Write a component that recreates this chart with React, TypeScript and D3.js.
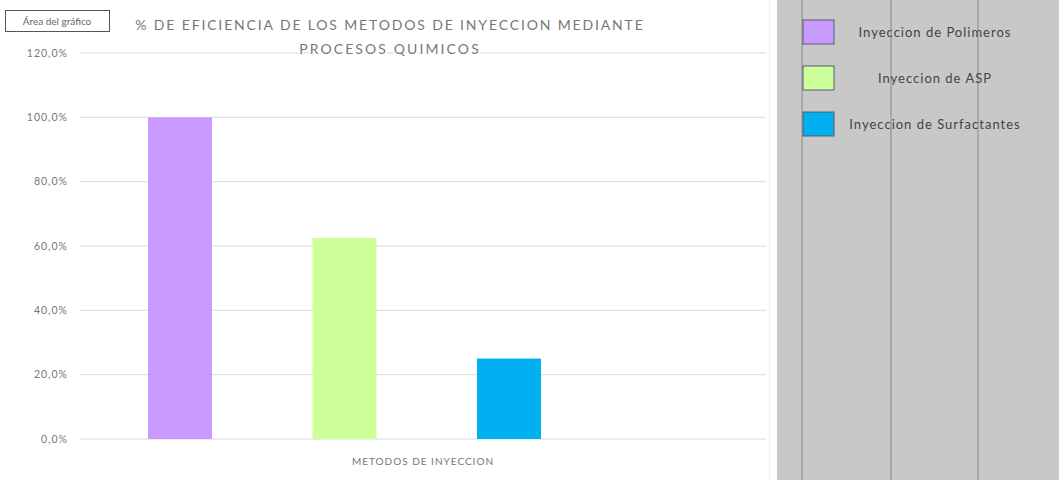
import React from "react";
import * as d3 from "d3";

const series = ["Inyeccion de Polimeros", "Inyeccion de ASP", "Inyeccion de Surfactantes"];
const values = [100, 62.5, 25];
const colors = ["#C899FF", "#CCFF99", "#00B0F0"];
const yTicks = [0, 20, 40, 60, 80, 100, 120];
const category = "METODOS DE INYECCION";
const titleLines = ["% DE EFICIENCIA DE LOS METODOS DE INYECCION MEDIANTE", "PROCESOS QUIMICOS"];
const tooltipText = "Área del gráfico";
const panelLines = [802, 891, 978];

const W = 1059;
const H = 480;
const plotLeft = 80;
const plotRight = 766;
const font = "Lato, 'Open Sans', sans-serif";

export default function App() {
  const y = d3.scaleLinear().domain([0, 120]).range([439, 53]);
  const x = d3.scaleBand<string>().domain(series).range([148, 541]).paddingInner(0.611).paddingOuter(0);
  const legendY = d3.scalePoint<string>().domain(series).range([32, 124]);
  const fmt = (v: number) => d3.format(".1f")(v).replace(".", ",") + "%";

  return (
    <svg width={W} height={H} style={{ position: "absolute", left: 0, top: 0, background: "#fff" }}>
      <rect x={0} y={0} width={W} height={H} fill="#fff" />
      {/* gridlines */}
      {yTicks.map((t) => (
        <line key={t} x1={plotLeft} x2={plotRight} y1={y(t)} y2={y(t)} stroke="#d9d9d9" strokeWidth={1} />
      ))}
      {/* y labels */}
      {yTicks.map((t) => (
        <text key={"l" + t} x={68} y={y(t)} dy="0.35em" textAnchor="end" fontSize={10.5} letterSpacing={1} fill="#777" fontFamily={font}>
          {fmt(t)}
        </text>
      ))}
      {/* bars */}
      {series.map((s, i) => (
        <rect key={s} x={x(s)} y={y(values[i])} width={x.bandwidth()} height={y(0) - y(values[i])} fill={colors[i]} />
      ))}
      {/* x category label */}
      <text x={(plotLeft + plotRight) / 2} y={461} dy="0.35em" textAnchor="middle" fontSize={10} letterSpacing={1} fill="#777" fontFamily={font}>
        {category}
      </text>
      {/* title */}
      {titleLines.map((t, i) => (
        <text
          key={t}
          x={390}
          y={25 + i * 24}
          dy="0.35em"
          textAnchor="middle"
          fontSize={14}
          letterSpacing={i === 0 ? 1.85 : 2.1}
          fill="#777"
          fontFamily={font}
          stroke="#fff"
          strokeWidth={4}
          paintOrder="stroke"
        >
          {t}
        </text>
      ))}
      {/* tooltip box */}
      <rect x={5.5} y={10.5} width={104} height={21} fill="#fff" stroke="#555" strokeWidth={1} />
      <text x={57} y={21} dy="0.35em" textAnchor="middle" fontSize={10} fill="#666" fontFamily={font}>
        {tooltipText}
      </text>
      {/* right grey panel */}
      <line x1={769.5} x2={769.5} y1={0} y2={H} stroke="#eeeeee" />
      <rect x={777} y={0} width={W - 777} height={H} fill="#c8c8c8" />
      {panelLines.map((px) => (
        <line key={px} x1={px} x2={px} y1={0} y2={H} stroke="#9e9e9e" strokeWidth={1.5} />
      ))}
      {/* legend */}
      {series.map((s, i) => (
        <g key={"lg" + s}>
          <rect
            x={803}
            y={(legendY(s) as number) - 12}
            width={31}
            height={24}
            fill={colors[i]}
            stroke="#5a5a6a"
            strokeWidth={1}
          />
          <text x={935} y={legendY(s) as number} dy="0.35em" textAnchor="middle" fontSize={13} letterSpacing={1} fill="#444" fontFamily={font}>
            {s}
          </text>
        </g>
      ))}
    </svg>
  );
}
